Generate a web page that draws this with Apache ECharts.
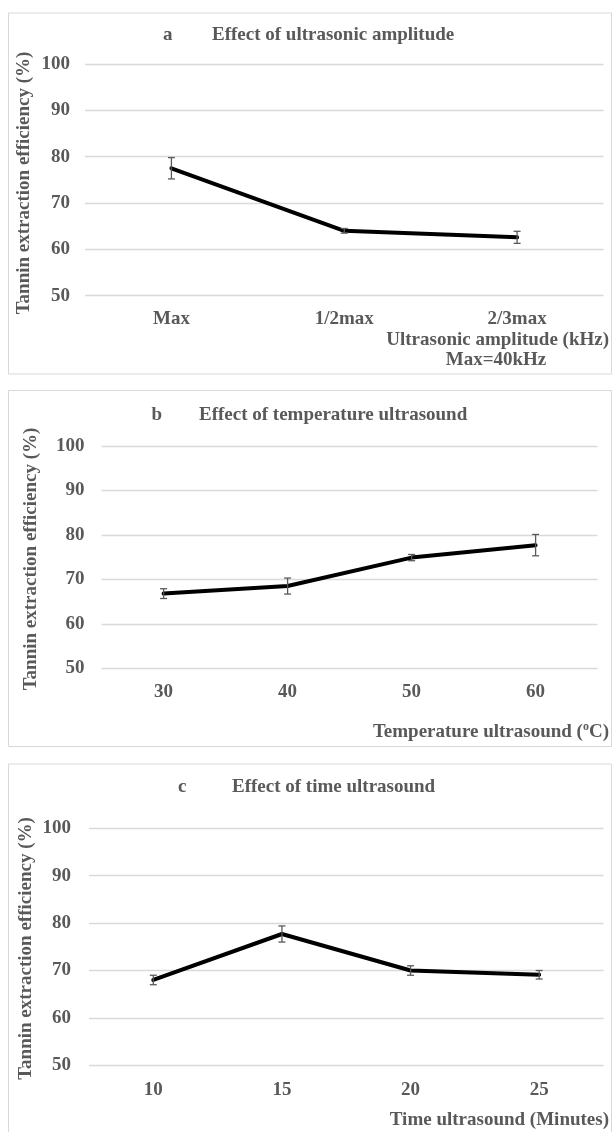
<!DOCTYPE html>
<html>
<head>
<meta charset="utf-8">
<script src="https://cdn.jsdelivr.net/npm/echarts@6/dist/echarts.min.js"></script>
<style>
  html, body { margin: 0; padding: 0; background: #fff; }
  #main { width: 612px; height: 1132px; }
</style>
</head>
<body>
<div id="main"></div>
<script>
// panel a - amplitude
var catsA = ['Max', '1/2max', '2/3max'];
var valsA = [77.5, 64.0, 62.6];
var errA = [2.3, 0.5, 1.3];
// panel b - temperature
var catsB = ['30', '40', '50', '60'];
var valsB = [66.8, 68.5, 74.9, 77.7];
var errB = [1.1, 1.8, 0.7, 2.4];
// panel c - time
var catsC = ['10', '15', '20', '25'];
var valsC = [68.0, 77.7, 70.0, 69.1];
var errC = [1.0, 1.7, 1.0, 0.9];

var yTicks = [50, 60, 70, 80, 90, 100];

var txtColor = '#595959';
var fontFam = '"Liberation Serif", "Times New Roman", serif';

// [index, low, high] for the custom error bar series
function errData(vals, errs) {
  var out = [];
  for (let i = 0; i < vals.length; i++) {
    out.push([i, vals[i] - errs[i], vals[i] + errs[i]]);
  }
  return out;
}

function renderErr(params, api) {
  var top = api.coord([api.value(0), api.value(2)]);
  var bot = api.coord([api.value(0), api.value(1)]);
  var w = 3.5;
  var st = { stroke: '#5a5a5a', lineWidth: 1.3 };
  return {
    type: 'group',
    children: [
      { type: 'line', shape: { x1: top[0], y1: top[1], x2: bot[0], y2: bot[1] }, style: st },
      { type: 'line', shape: { x1: top[0] - w, y1: top[1], x2: top[0] + w, y2: top[1] }, style: st },
      { type: 'line', shape: { x1: bot[0] - w, y1: bot[1], x2: bot[0] + w, y2: bot[1] }, style: st }
    ]
  };
}

function xAx(idx, cats, margin) {
  return {
    type: 'category', gridIndex: idx, data: cats,
    axisLine: { show: false }, axisTick: { show: false },
    axisLabel: { color: txtColor, fontSize: 19, fontWeight: 'bold', fontFamily: fontFam, margin: margin }
  };
}

function yAx(idx, margin) {
  return {
    type: 'value', gridIndex: idx, min: yTicks[0], max: yTicks[yTicks.length - 1], interval: 10,
    axisLine: { show: false }, axisTick: { show: false },
    axisLabel: { color: txtColor, fontSize: 19, fontWeight: 'bold', fontFamily: fontFam, margin: margin },
    splitLine: { lineStyle: { color: '#d9d9d9', width: 1.3 } }
  };
}

function lineSer(idx, vals) {
  return {
    type: 'line', xAxisIndex: idx, yAxisIndex: idx, data: vals,
    symbol: 'none', lineStyle: { color: '#000', width: 4, cap: 'round', join: 'round' }, z: 3
  };
}

function errSer(idx, vals, errs) {
  return {
    type: 'custom', xAxisIndex: idx, yAxisIndex: idx,
    data: errData(vals, errs), renderItem: renderErr, z: 4
  };
}

function txt(x, y, s, align, extra) {
  var o = {
    type: 'text', x: x, y: y, z: 10,
    style: {
      text: s, fill: txtColor, fontSize: 19, fontWeight: 'bold', fontFamily: fontFam,
      textAlign: align || 'left', textVerticalAlign: 'middle'
    }
  };
  if (extra) Object.assign(o.style, extra);
  return o;
}

function ytitle(x, y) {
  var o = txt(x, y, 'Tannin extraction efficiency (%)', 'center');
  o.rotation = Math.PI / 2;
  return o;
}

function box(y, h) {
  return {
    type: 'rect', shape: { x: 8.5, y: y, width: 603, height: h },
    style: { fill: 'none', stroke: '#d9d9d9', lineWidth: 1 }, z: 0
  };
}

var chart = echarts.init(document.getElementById('main'));
chart.setOption({
  animation: false,
  grid: [
    { left: 85, right: 8.5, top: 64, height: 231.7 },
    { left: 101.6, right: 14.4, top: 446, height: 222.3 },
    { left: 89, right: 8.5, top: 828.3, height: 237 }
  ],
  xAxis: [xAx(0, catsA, 14), xAx(1, catsB, 14), xAx(2, catsC, 15)],
  yAxis: [yAx(0, 15), yAx(1, 17), yAx(2, 18)],
  series: [
    lineSer(0, valsA), errSer(0, valsA, errA),
    lineSer(1, valsB), errSer(1, valsB, errB),
    lineSer(2, valsC), errSer(2, valsC, errC)
  ],
  graphic: [
    box(13, 361), box(390.5, 356), box(764, 380),
    // panel a
    txt(163, 35, 'a'), txt(212, 35, 'Effect of ultrasonic amplitude'),
    ytitle(24, 183),
    txt(609, 340, 'Ultrasonic amplitude (kHz)', 'right'),
    txt(496, 360, 'Max=40kHz', 'center'),
    // panel b
    txt(151.5, 415, 'b'), txt(199, 415, 'Effect of temperature ultrasound'),
    ytitle(31, 559),
    txt(609, 731.7, 'Temperature ultrasound ({sup|o}C)', 'right', {
      rich: { sup: { fontSize: 12, fontWeight: 'bold', fontFamily: fontFam, fill: txtColor, verticalAlign: 'top', lineHeight: 22 } }
    }),
    // panel c
    txt(178, 787, 'c'), txt(232, 787, 'Effect of time ultrasound'),
    ytitle(26.5, 948.5),
    txt(609, 1120, 'Time ultrasound (Minutes)', 'right')
  ]
});
</script>
</body>
</html>
